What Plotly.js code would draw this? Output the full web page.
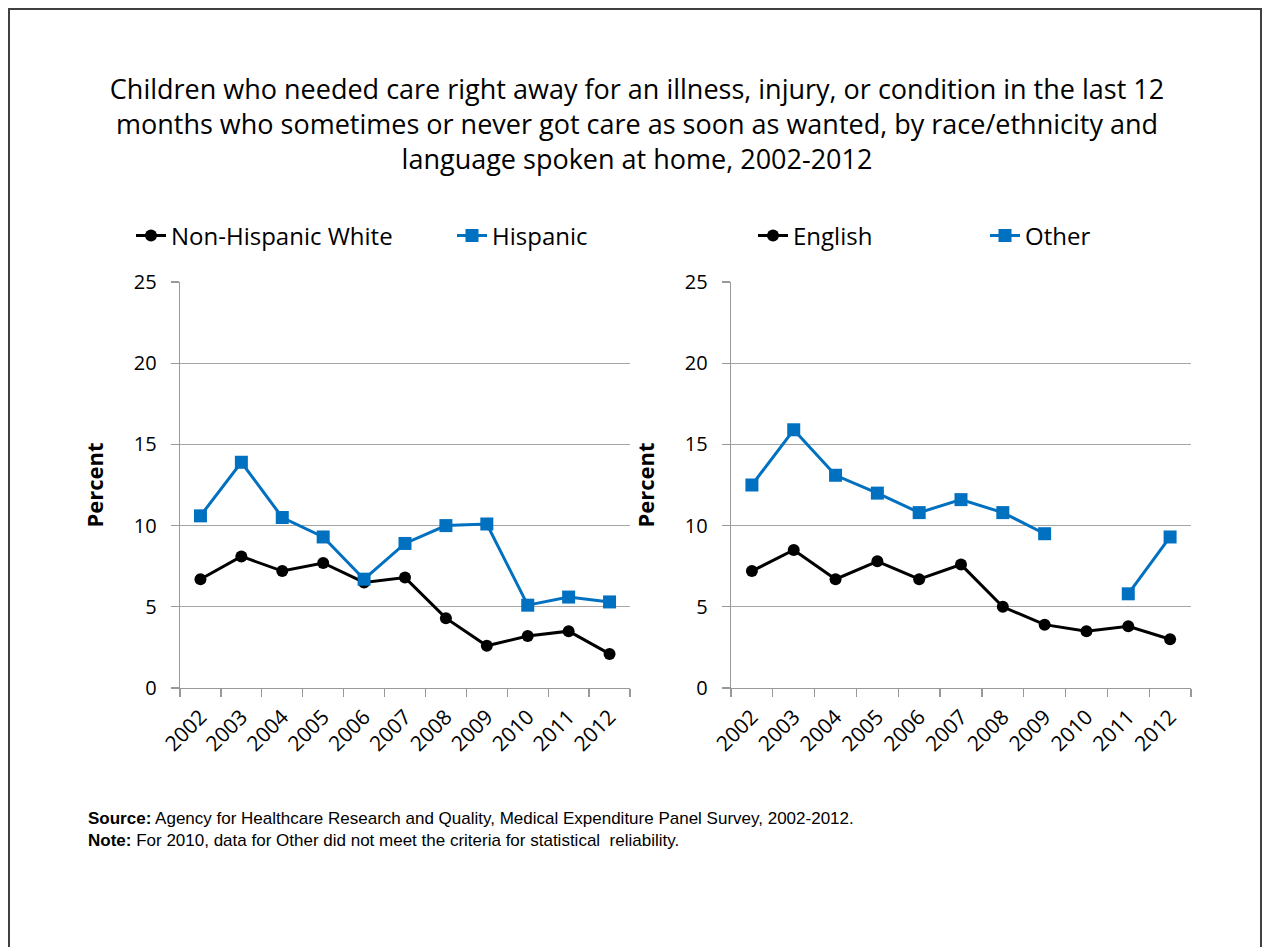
<!DOCTYPE html>
<html>
<head>
<meta charset="utf-8">
<script src="https://cdn.plot.ly/plotly-3.0.1.min.js"></script>
<style>
  html, body { margin: 0; padding: 0; background: #fff; }
  #chart { width: 1264px; height: 947px; }
</style>
</head>
<body>
<div id="chart"></div>
<script>
// ---- Data ----
const years = ["2002","2003","2004","2005","2006","2007","2008","2009","2010","2011","2012"];
const nonHispanicWhite = [6.7, 8.1, 7.2, 7.7, 6.5, 6.8, 4.3, 2.6, 3.2, 3.5, 2.1];
const hispanic = [10.6, 13.9, 10.5, 9.3, 6.7, 8.9, 10.0, 10.1, 5.1, 5.6, 5.3];
const english = [7.2, 8.5, 6.7, 7.8, 6.7, 7.6, 5.0, 3.9, 3.5, 3.8, 3.0];
const otherLang = [12.5, 15.9, 13.1, 12.0, 10.8, 11.6, 10.8, 9.5, null, 5.8, 9.3];

const titleText = "Children who needed care right away for an illness, injury, or condition in the last 12<br>months who sometimes or never got care as soon as wanted, by race/ethnicity and<br>language spoken at home, 2002-2012";
const sourceText = "<b>Source:</b> Agency for Healthcare Research and Quality, Medical Expenditure Panel Survey, 2002-2012.<br><b>Note:</b> For 2010, data for Other did not meet the criteria for statistical  reliability.";

const FONT = "'Open Sans', Lato, sans-serif";
const BLACK = "#000000";
const BLUE = "#0070C0";
const GRID = "#A6A6A6";

function blackTrace(name, vals, xa, ya, legendId) {
  return {
    type: "scatter", mode: "lines+markers", name: name,
    x: years, y: vals, xaxis: xa, yaxis: ya, legend: legendId,
    line: { color: BLACK, width: 3 },
    marker: { symbol: "circle", size: 12, color: BLACK },
    connectgaps: false
  };
}
function blueTrace(name, vals, xa, ya, legendId) {
  return {
    type: "scatter", mode: "lines+markers", name: name,
    x: years, y: vals, xaxis: xa, yaxis: ya, legend: legendId,
    line: { color: BLUE, width: 3 },
    marker: { symbol: "square", size: 13, color: BLUE },
    connectgaps: false
  };
}

const traces = [
  blackTrace("Non-Hispanic White", nonHispanicWhite, "x", "y", "legend"),
  blueTrace("Hispanic", hispanic, "x", "y", "legend2"),
  blackTrace("English", english, "x2", "y2", "legend3"),
  blueTrace("Other", otherLang, "x2", "y2", "legend4")
];

const W = 1264, H = 947;
const px = v => v / W;
const py = v => 1 - v / H;

function xAxis(d0, d1, anchor) {
  return {
    domain: [px(d0), px(d1)], anchor: anchor,
    type: "category", range: [-0.5, 10.5],
    tickson: "boundaries", ticks: "outside", ticklen: 8, tickwidth: 1.3, tickcolor: "#999999",
    showline: true, linecolor: "#999999", linewidth: 1.3,
    showgrid: false, tickangle: -45, ticklabelstandoff: 7,
    tickfont: { family: FONT, size: 21, color: BLACK },
    fixedrange: true
  };
}
function yAxis(anchor) {
  return {
    domain: [py(688), py(282)], anchor: anchor,
    range: [0, 25], dtick: 5, tick0: 0,
    ticks: "outside", ticklen: 8, tickwidth: 1.3, tickcolor: "#999999",
    showline: true, linecolor: "#999999", linewidth: 1.3,
    showgrid: true, gridcolor: GRID, gridwidth: 1.3, zeroline: false,
    ticklabelstandoff: 10,
    tickfont: { family: FONT, size: 20, color: BLACK },
    title: { text: "<b>Percent</b>", font: { family: FONT, size: 22, color: BLACK }, standoff: 24 },
    fixedrange: true
  };
}

function legendAt(xLeft) {
  return {
    x: px(xLeft), y: py(236), xanchor: "left", yanchor: "middle",
    orientation: "h", bgcolor: "rgba(0,0,0,0)", borderwidth: 0,
    font: { family: FONT, size: 24, color: BLACK },
    itemclick: false, itemdoubleclick: false
  };
}

const layout = {
  width: W, height: H,
  margin: { l: 0, r: 0, t: 0, b: 0 },
  paper_bgcolor: "#ffffff", plot_bgcolor: "#ffffff",
  showlegend: true,
  title: {
    text: titleText, x: px(637), xanchor: "center",
    y: py(99), yanchor: "top", yref: "container",
    font: { family: FONT, size: 27, color: BLACK }
  },
  xaxis: xAxis(180, 630, "y"),
  yaxis: yAxis("x"),
  xaxis2: xAxis(731, 1191, "y2"),
  yaxis2: yAxis("x2"),
  legend: legendAt(131),
  legend2: legendAt(452),
  legend3: legendAt(753),
  legend4: legendAt(985),
  annotations: [{
    xref: "paper", yref: "paper", x: px(86), y: py(807),
    xanchor: "left", yanchor: "top", align: "left", showarrow: false,
    text: sourceText,
    font: { family: "'Liberation Sans', Arial, sans-serif", size: 17, color: BLACK }
  }],
  shapes: [{
    type: "rect", xref: "paper", yref: "paper",
    x0: px(9), x1: px(1261), y0: py(960), y1: py(9),
    line: { color: "#404040", width: 2 }, fillcolor: "rgba(0,0,0,0)", layer: "below"
  }]
};

Plotly.newPlot("chart", traces, layout, { displayModeBar: false, staticPlot: true });
</script>
</body>
</html>
